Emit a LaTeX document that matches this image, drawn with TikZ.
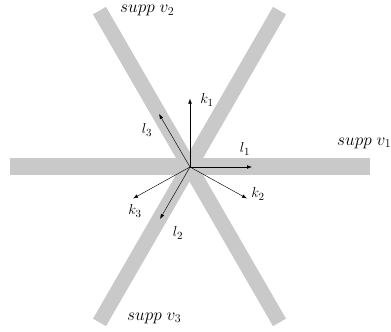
\documentclass[tikz,border=0pt]{standalone}
\usetikzlibrary{arrows.meta}
\begin{document}
\begin{tikzpicture}[x=1pt,y=-1pt,
  band/.style={line width=#1, draw=black!21, line cap=butt},
  vec/.style={-{Latex[length=5pt,width=3.6pt]}, line width=0.45pt},
  lbl/.style={inner sep=0pt, font=\fontsize{15}{17}\selectfont},
  supplbl/.style={inner sep=0pt, font=\fontsize{16.5}{19}\selectfont}]
\useasboundingbox (0,0) rectangle (391,332);
% bands
\coordinate (h1) at (9.5,166.5);   \coordinate (h2) at (369.5,166.5);
\coordinate (a1) at (99.5,10.6);   \coordinate (a2) at (279.5,322.4);
\coordinate (b1) at (279.5,10.6);  \coordinate (b2) at (99.5,322.4);
\draw[band=17pt] (h1) -- (h2);
\draw[band=15pt] (a1) -- (a2);
\draw[band=15pt] (b1) -- (b2);
% vectors
\coordinate (O) at (190,167);
\coordinate (K1) at (190,98.5);
\coordinate (K2) at (247,198.5);
\coordinate (K3) at (133,198.5);
\coordinate (L1) at (252,167);
\coordinate (L2) at (160,219);
\coordinate (L3) at (159,114);
\draw[vec] (O) -- (K1);
\draw[vec] (O) -- (K2);
\draw[vec] (O) -- (K3);
\draw[vec] (O) -- (L1);
\draw[vec] (O) -- (L2);
\draw[vec] (O) -- (L3);
\node[lbl] (k1) at (207,100) {$k_1$};
\node[lbl] (k2) at (258,194) {$k_2$};
\node[lbl] (k3) at (135,211) {$k_3$};
\node[lbl] (l1) at (245,149) {$l_1$};
\node[lbl] (l2) at (178,233) {$l_2$};
\node[lbl] (l3) at (147,130) {$l_3$};
\node[supplbl, anchor=west] (s1) at (337,143) {$supp\ v_1$};
\node[supplbl, anchor=west] (s2) at (120,10.5) {$supp\ v_2$};
\node[supplbl, anchor=west] (s3) at (127,318) {$supp\ v_3$};
\end{tikzpicture}
\end{document}
